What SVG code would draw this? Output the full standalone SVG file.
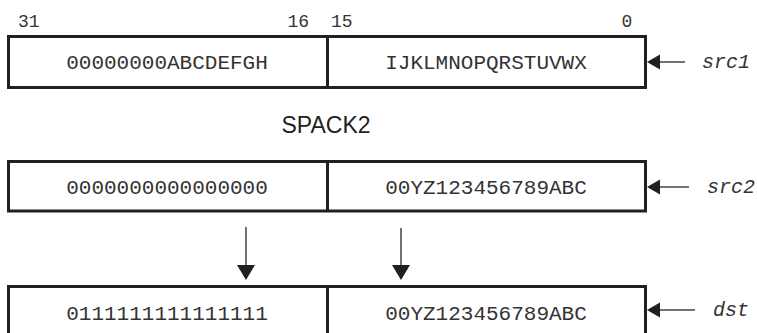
<svg xmlns="http://www.w3.org/2000/svg" width="757" height="333" viewBox="0 0 757 333">
<style>
.box{fill:#fff;stroke:#231f20;stroke-width:3}
.div{stroke:#231f20;stroke-width:3}
.val{font-family:"Liberation Mono",monospace;font-size:21px;fill:#333;text-anchor:middle}
.bit{font-family:"Liberation Mono",monospace;font-size:18px;fill:#333}
.lbl{font-family:"Liberation Mono",monospace;font-size:20px;font-style:italic;fill:#333}
.title{font-family:"Liberation Sans",Arial,sans-serif;font-size:23px;fill:#231f20;text-anchor:middle}
.ln{stroke:#444;stroke-width:1.5;fill:none}
.head{fill:#231f20}
</style>
<rect width="757" height="333" fill="#fff"/>
<g id="bits">
<text class="bit" x="18" y="27">31</text>
<text class="bit" x="309" y="27" text-anchor="end">16</text>
<text class="bit" x="331" y="27">15</text>
<text class="bit" x="627" y="27" text-anchor="middle">0</text>
</g>
<g id="src1">
<rect class="box" x="8.5" y="36.5" width="637" height="51"/>
<line class="div" x1="327.5" y1="36.5" x2="327.5" y2="87.5"/>
<text class="val" x="167" y="69">00000000ABCDEFGH</text>
<text class="val" x="486" y="69">IJKLMNOPQRSTUVWX</text>
<text class="lbl" x="702" y="68">src1</text>
</g>
<g id="title">
<text class="title" x="326" y="133">SPACK2</text>
</g>
<g id="src2">
<rect class="box" x="8.5" y="161.5" width="637" height="49.5"/>
<line class="div" x1="327.5" y1="161.5" x2="327.5" y2="211"/>
<text class="val" x="167" y="194">0000000000000000</text>
<text class="val" x="486" y="194">00YZ123456789ABC</text>
<text class="lbl" x="707" y="193">src2</text>
</g>
<g id="dst">
<rect class="box" x="8.5" y="286.5" width="637" height="50"/>
<line class="div" x1="327.5" y1="286.5" x2="327.5" y2="336.5"/>
<text class="val" x="167" y="320">0111111111111111</text>
<text class="val" x="486" y="320">00YZ123456789ABC</text>
<text class="lbl" x="713" y="316">dst</text>
</g>
<g id="connectors">
<line class="ln" x1="659" y1="62" x2="685" y2="62"/>
<polygon class="head" points="647,62 660,54.5 660,69.5"/>
<line class="ln" x1="659" y1="187" x2="689" y2="187"/>
<polygon class="head" points="647,187 660,179.5 660,194.5"/>
<line class="ln" x1="659" y1="310" x2="695" y2="310"/>
<polygon class="head" points="647,310 660,302.5 660,317.5"/>
<line class="ln" x1="246" y1="227" x2="246" y2="266"/>
<polygon class="head" points="246,280 237,265 255,265"/>
<line class="ln" x1="401" y1="228" x2="401" y2="266"/>
<polygon class="head" points="401,280 392,265 410,265"/>
</g>
</svg>
